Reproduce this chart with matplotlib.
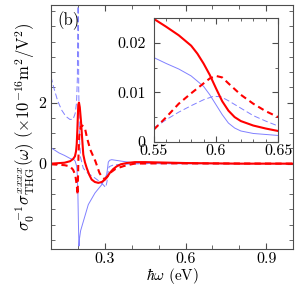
import matplotlib
matplotlib.use("Agg")
import matplotlib.pyplot as plt
from matplotlib.ticker import MultipleLocator, FixedLocator

plt.rcParams['font.family'] = 'serif'
plt.rcParams['font.serif'] = ['cmr10', 'DejaVu Serif']
plt.rcParams['mathtext.fontset'] = 'cm'
plt.rcParams['axes.formatter.use_mathtext'] = True
plt.rcParams['font.size'] = 11.5

# main panel, values
red_x = [0.1, 0.15, 0.171, 0.182, 0.189, 0.193, 0.1955, 0.198, 0.2, 0.2015, 0.204, 0.207,
         0.2115, 0.216, 0.22, 0.226, 0.2327, 0.242, 0.251, 0.263, 0.276, 0.289, 0.301,
         0.31, 0.319, 0.331, 0.344, 0.36, 0.381, 0.412, 0.45, 0.5, 0.6, 0.7, 0.8, 1.0]
red_y = [0.0, 0.03, 0.08, 0.15, 0.24, 0.4, 0.62, 1.1, 1.6, 1.93, 2.0, 1.85,
         1.39, 0.8, 0.3, 0.05, -0.14, -0.36, -0.52, -0.6, -0.63, -0.6, -0.52,
         -0.42, -0.3, -0.18, -0.09, -0.02, 0.02, 0.05, 0.05, 0.04, 0.02, 0.01, 0.0, 0.0]

redd_x = [0.1, 0.15, 0.171, 0.182, 0.19, 0.1955, 0.199, 0.2, 0.202, 0.205, 0.21, 0.216,
          0.226, 0.234, 0.246, 0.265, 0.28, 0.29, 0.298, 0.307, 0.32, 0.34, 0.37, 0.41,
          0.5, 1.0]
redd_y = [-0.02, -0.05, -0.09, -0.2, -0.36, -0.69, -1.02, -0.6, 0.2, 0.9, 1.2, 1.25,
          1.17, 0.84, 0.46, 0.08, -0.3, -0.45, -0.5, -0.45, -0.3, -0.17, -0.08, 0.0,
          0.01, 0.0]

blue_x = [0.1, 0.13, 0.15, 0.171, 0.185, 0.19, 0.1955, 0.198, 0.2, 0.202, 0.204, 0.206,
          0.21, 0.22, 0.2387, 0.2636, 0.2885, 0.307, 0.311, 0.313, 0.318, 0.3257, 0.363,
          0.412, 0.5, 1.0]
blue_y = [0.52, 0.35, 0.27, 0.17, 0.13, 0.08, -0.09, -0.4, -1.0, -2.0, -2.7, -2.45,
          -2.2, -1.9, -1.34, -0.96, -0.69, -0.36, -0.1, 0.05, 0.11, 0.13, 0.08,
          0.02, 0.0, 0.0]

blued_x = [0.1, 0.11, 0.125, 0.14, 0.155, 0.17, 0.182, 0.19, 0.195, 0.198, 0.2, 0.2005,
           0.2015, 0.203, 0.206, 0.21, 0.22, 0.235, 0.26, 0.28, 0.295, 0.303, 0.308,
           0.312, 0.316, 0.33, 0.36, 0.45, 1.0]
blued_y = [2.85, 2.5, 2.05, 1.75, 1.55, 1.45, 1.45, 1.65, 2.0, 2.8, 5.5, 9.0,
           6.0, 2.5, 0.8, 0.2, -0.15, -0.3, -0.45, -0.58, -0.7, -0.78, -0.6,
           -0.3, -0.1, -0.05, -0.02, 0.0, 0.0]

# inset, around 0.6 eV
ired_x = [0.55, 0.56, 0.57, 0.58, 0.585, 0.59, 0.595, 0.6, 0.605, 0.61, 0.615, 0.62, 0.63, 0.64, 0.65]
ired_y = [0.0248, 0.0232, 0.0215, 0.0194, 0.0178, 0.0158, 0.0135, 0.0108, 0.0082, 0.0063,
          0.005, 0.0042, 0.0033, 0.0027, 0.0022]

iredd_x = [0.55, 0.56, 0.57, 0.58, 0.59, 0.595, 0.6, 0.605, 0.61, 0.62, 0.63, 0.64, 0.65]
iredd_y = [0.0025, 0.005, 0.0077, 0.0098, 0.0118, 0.0128, 0.0133, 0.013, 0.0118, 0.0095,
           0.0077, 0.0062, 0.005]

iblue_x = [0.55, 0.56, 0.57, 0.58, 0.59, 0.595, 0.6, 0.605, 0.61, 0.615, 0.62, 0.63, 0.64, 0.65]
iblue_y = [0.017, 0.0158, 0.0147, 0.0133, 0.0112, 0.0095, 0.0075, 0.0055, 0.0038, 0.0028,
           0.0022, 0.0017, 0.0015, 0.0013]

iblued_x = [0.55, 0.56, 0.57, 0.58, 0.59, 0.598, 0.604, 0.61, 0.62, 0.63, 0.64, 0.65]
iblued_y = [0.0028, 0.0045, 0.006, 0.0073, 0.0085, 0.0092, 0.0091, 0.0083, 0.0068, 0.0053,
            0.0042, 0.0032]

red = '#ff0000'
blue = '#8080ff'
spine = '0.3'

fig = plt.figure(figsize=(3.0, 2.89), dpi=100)
ax = fig.add_axes([0.17, 0.138, 0.807, 0.845])

ax.plot(blue_x, blue_y, color=blue, lw=0.7)
ax.plot(blued_x, blued_y, color=blue, lw=0.7, dashes=(6, 3))
ax.plot(redd_x, redd_y, color=red, lw=1.5, dashes=(3, 2))
ax.plot(red_x, red_y, color=red, lw=1.5)

ax.set_xlim(0.1, 1.0)
ax.set_ylim(-2.8, 5.2)
ax.xaxis.set_major_locator(FixedLocator([0.3, 0.6, 0.9]))
ax.xaxis.set_minor_locator(MultipleLocator(0.1))
ax.yaxis.set_major_locator(FixedLocator([0, 2]))
ax.yaxis.set_minor_locator(MultipleLocator(0.5))
ax.tick_params(which='both', direction='in', top=True, right=True, color=spine)
ax.tick_params(which='major', length=4)
ax.tick_params(which='minor', length=3)
ax.tick_params(axis='x', pad=2.5)
for s in ax.spines.values():
    s.set_color(spine)
ax.set_xticklabels(['0.3', '0.6', '0.9'])
ax.set_yticklabels(['0', '2'])
ax.set_xlabel(r'$\hbar\omega$ (eV)', labelpad=0, fontsize=11)
ax.set_ylabel(r'$\sigma_0^{-1}\sigma^{xxxx}_{\rm THG}(\omega)\ (\times10^{-16}{\rm m}^2/{\rm V}^2)$',
              labelpad=1, fontsize=12)
ax.text(0.025, 0.975, '(b)', transform=ax.transAxes, ha='left', va='top', fontsize=12)

ins = fig.add_axes([0.513, 0.509, 0.414, 0.429])
ins.plot(iblue_x, iblue_y, color=blue, lw=0.7)
ins.plot(iblued_x, iblued_y, color=blue, lw=0.7, dashes=(6, 3))
ins.plot(iredd_x, iredd_y, color=red, lw=1.5, dashes=(3, 2))
ins.plot(ired_x, ired_y, color=red, lw=1.5)
ins.set_xlim(0.55, 0.65)
ins.set_ylim(0, 0.025)
ins.xaxis.set_major_locator(FixedLocator([0.55, 0.6, 0.65]))
ins.xaxis.set_minor_locator(MultipleLocator(0.01))
ins.yaxis.set_major_locator(FixedLocator([0, 0.01, 0.02]))
ins.yaxis.set_minor_locator(MultipleLocator(0.005))
ins.set_xticklabels(['0.55', '0.6', '0.65'])
ins.set_yticklabels(['0', '0.01', '0.02'])
ins.tick_params(which='both', direction='in', top=True, right=True, color=spine)
ins.tick_params(axis='x', pad=2)
ins.tick_params(axis='y', pad=6)
ins.tick_params(which='major', length=4)
ins.tick_params(which='minor', length=2.5)
for s in ins.spines.values():
    s.set_color(spine)

fig.savefig('out.png', dpi=100)
